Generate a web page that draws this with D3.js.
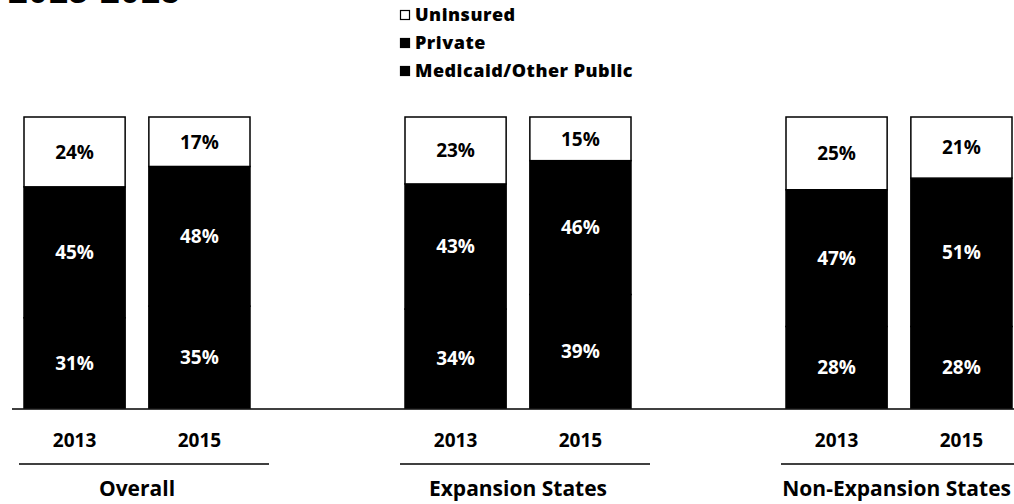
<!DOCTYPE html>
<html>
<head>
<meta charset="utf-8">
<script src="https://cdn.jsdelivr.net/npm/d3@7"></script>
<style>
  body { margin: 0; background: #fff; }
  svg { display: block; font-family: "Open Sans", sans-serif; }
</style>
</head>
<body>
<svg id="svg" width="1014" height="504"></svg>
<script>
// data (percent of each bar)
var groups = ["Overall", "Expansion States", "Non-Expansion States"];
var years = ["2013", "2015"];
var uninsured = [24, 17, 23, 15, 25, 21];
var privateIns = [45, 48, 43, 46, 47, 51];
var medicaid = [31, 35, 34, 39, 28, 28];
var legendLabels = ["Uninsured", "Private", "Medicaid/Other Public"];

var svg = d3.select("#svg");
var width = 1014;

// build one row per bar, stacking bottom-up: medicaid, private, uninsured
var rows = [];
groups.forEach(function (g, gi) {
  years.forEach(function (y, yi) {
    var i = gi * years.length + yi;
    rows.push({ group: g, year: y, medicaid: medicaid[i], priv: privateIns[i], uninsured: uninsured[i] });
  });
});

var keys = ["medicaid", "priv", "uninsured"];
var stacked = d3.stack().keys(keys)(rows);

var xGroup = d3.scalePoint().domain(groups).range([137, 899]);
var xYear = d3.scaleBand().domain(years).range([-113, 113]).paddingInner(0.19).paddingOuter(0);
var yScale = d3.scaleLinear().domain([0, 100]).range([408, 117]);

var fills = { medicaid: "#000", priv: "#000", uninsured: "#fff" };
var labelColor = { medicaid: "#fff", priv: "#fff", uninsured: "#000" };

function barX(d) {
  return xGroup(d.group) + xYear(d.year);
}

// title remnant at top (cut off in the original)
svg.append("text")
  .attr("x", 8)
  .attr("y", 3)
  .attr("font-family", "Liberation Sans, sans-serif")
  .attr("font-weight", "bold")
  .attr("font-size", 36)
  .text("2013-2015");

// bars
var layers = svg.append("g").selectAll("g")
  .data(stacked)
  .join("g");

layers.selectAll("rect")
  .data(function (s) { return s.map(function (p) { p.key = s.key; return p; }); })
  .join("rect")
  .attr("x", function (p) { return barX(p.data); })
  .attr("width", xYear.bandwidth())
  .attr("y", function (p) { return yScale(p[1]); })
  .attr("height", function (p) { return yScale(p[0]) - yScale(p[1]); })
  .attr("fill", function (p) { return fills[p.key]; })
  .attr("stroke", "#000")
  .attr("stroke-width", 1.5);

layers.selectAll("text")
  .data(function (s) { return s; })
  .join("text")
  .attr("x", function (p) { return barX(p.data) + xYear.bandwidth() / 2; })
  .attr("y", function (p) { return (yScale(p[0]) + yScale(p[1])) / 2; })
  .attr("dy", "0.36em")
  .attr("text-anchor", "middle")
  .attr("font-size", 19)
  .attr("font-weight", "bold")
  .attr("fill", function (p) { return labelColor[p.key]; })
  .text(function (p) { return (p[1] - p[0]) + "%"; });

// baseline
svg.append("line")
  .attr("x1", 12).attr("x2", width)
  .attr("y1", 409).attr("y2", 409)
  .attr("stroke", "#000").attr("stroke-width", 1.5);

// year labels
svg.append("g").selectAll("text")
  .data(rows)
  .join("text")
  .attr("x", function (d) { return barX(d) + xYear.bandwidth() / 2; })
  .attr("y", 447)
  .attr("text-anchor", "middle")
  .attr("font-size", 19)
  .attr("font-weight", "bold")
  .text(function (d) { return d.year; });

// group underline + label
var gLab = svg.append("g").selectAll("g")
  .data(groups)
  .join("g");

gLab.append("line")
  .attr("x1", function (g) { return xGroup(g) - 118; })
  .attr("x2", function (g) { return Math.min(xGroup(g) + 132, width); })
  .attr("y1", 464).attr("y2", 464)
  .attr("stroke", "#000").attr("stroke-width", 1.5);

gLab.append("text")
  .attr("x", function (g) { return xGroup(g); })
  .attr("y", 496)
  .attr("text-anchor", "middle")
  .attr("font-size", 21)
  .attr("font-weight", "bold")
  .text(function (g) { return g; })
  .each(function (g) {
    // keep the last label inside the page
    var w = this.getComputedTextLength();
    var cx = Math.min(xGroup(g), width - 3 - w / 2);
    d3.select(this).attr("x", cx);
  });

// legend
var legend = svg.append("g").selectAll("g")
  .data(legendLabels)
  .join("g")
  .attr("transform", function (d, i) { return "translate(400," + (15 + i * 28) + ")"; });

legend.append("rect")
  .attr("x", 0.5).attr("y", -4.5)
  .attr("width", 9).attr("height", 9)
  .attr("fill", function (d, i) { return i === 0 ? "#fff" : "#000"; })
  .attr("stroke", "#000").attr("stroke-width", 1.2);

legend.append("text")
  .attr("x", 15)
  .attr("dy", "0.36em")
  .attr("font-size", 18)
  .attr("font-weight", 800)
  .attr("letter-spacing", 0.5)
  .text(function (d) { return d; });
</script>
</body>
</html>
